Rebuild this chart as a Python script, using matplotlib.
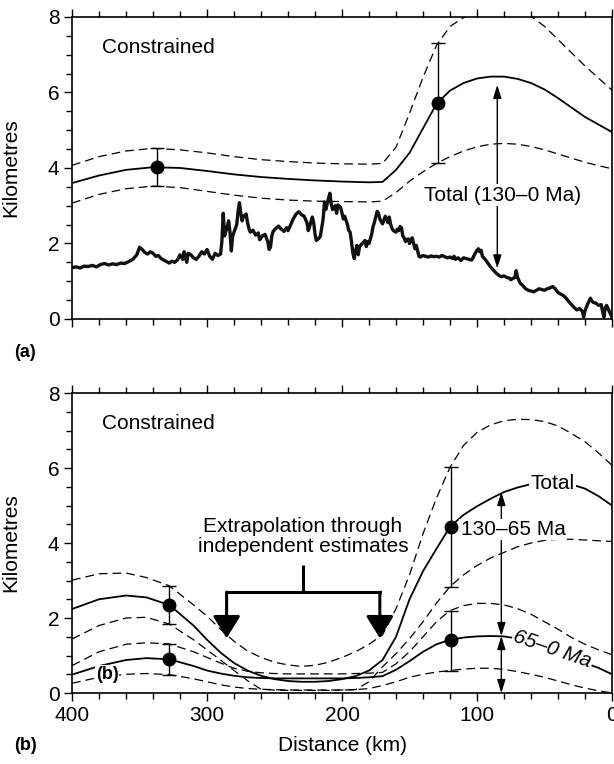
import matplotlib.pyplot as plt
from matplotlib.ticker import MultipleLocator

plt.rcParams['font.family'] = ['Liberation Sans', 'DejaVu Sans']

# ---- panel (a) ----
km_a = [400, 380, 360, 340, 320, 300, 280, 260, 240, 220, 200, 180, 170, 160, 150,
        140, 130, 120, 110, 100, 90, 80, 70, 60, 50, 40, 30, 20, 10, 0]
total_a = [3.60, 3.80, 3.95, 4.02, 4.00, 3.92, 3.83, 3.76, 3.71, 3.67, 3.64, 3.62, 3.63,
           3.95, 4.40, 5.05, 5.70, 6.05, 6.25, 6.37, 6.42, 6.42, 6.36, 6.25, 6.08, 5.85,
           5.60, 5.35, 5.15, 4.95]
upper_a = [4.07, 4.30, 4.45, 4.52, 4.48, 4.40, 4.30, 4.22, 4.17, 4.13, 4.11, 4.10, 4.12,
           4.55, 5.45, 6.40, 7.25, 7.75, 7.98, 8.14, 8.22, 8.25, 8.18, 8.02, 7.75, 7.40,
           7.05, 6.70, 6.38, 6.06]
lower_a = [3.07, 3.30, 3.45, 3.52, 3.48, 3.38, 3.28, 3.20, 3.15, 3.12, 3.11, 3.10, 3.12,
           3.35, 3.65, 3.90, 4.12, 4.30, 4.45, 4.56, 4.63, 4.65, 4.63, 4.57, 4.48, 4.37,
           4.26, 4.15, 4.06, 3.98]
err_km_a = [337, 129]
err_val_a = [4.02, 5.73]
err_lo_a = [3.52, 4.13]
err_hi_a = [4.52, 7.31]

# topography profile
topo_km = [400, 397, 394, 391, 388, 385, 382, 379, 376, 373, 370, 367, 364, 361, 358, 355,
           352, 350, 348, 346, 344, 342, 340, 338, 336, 334, 332, 330, 328, 326, 324, 322,
           320, 318, 317, 315, 314, 312, 310, 308, 306, 304, 302, 300, 298, 296, 294, 292,
           290, 289, 288, 287, 285, 284, 283, 282, 281, 279, 278, 277, 276, 275, 274, 273,
           271, 270, 269, 268, 266, 264, 262, 261, 259, 257, 255, 254, 253, 252, 251, 249,
           247, 245, 243, 241, 240, 238, 236, 234, 232, 230, 228, 226, 225, 224, 222, 221,
           220, 219, 217, 216, 214, 213, 212, 210, 209, 208, 207, 205, 204, 203, 201, 200,
           199, 198, 196, 195, 194, 193, 192, 191, 190, 189, 188, 187, 185, 183, 182, 181,
           180, 178, 177, 176, 175, 174, 173, 172, 171, 170, 169, 168, 167, 166, 165, 164,
           163, 162, 160, 159, 158, 157, 156, 155, 154, 153, 152, 151, 150, 149, 148, 147,
           146, 145, 144, 143, 142, 140, 138, 136, 134, 132, 130, 128, 126, 124, 122, 120,
           118, 117, 116, 114, 112, 110, 108, 106, 104, 103, 102, 100, 99, 98, 97, 96,
           94, 92, 90, 88, 86, 84, 82, 80, 78, 76, 75, 74, 72, 71, 70, 68,
           66, 64, 62, 60, 58, 56, 54, 52, 50, 48, 46, 44, 42, 40, 38, 36,
           34, 32, 30, 28, 26, 24, 22, 21, 20, 18, 16, 15, 14, 12, 10, 8,
           7, 6, 5, 4, 2, 0]
topo_h = [1.36, 1.38, 1.35, 1.40, 1.39, 1.42, 1.38, 1.44, 1.47, 1.43, 1.46, 1.44, 1.48, 1.47, 1.52, 1.58,
          1.70, 1.90, 1.84, 1.76, 1.72, 1.78, 1.74, 1.66, 1.68, 1.60, 1.56, 1.52, 1.48, 1.53, 1.50, 1.56,
          1.70, 1.58, 1.78, 1.50, 1.74, 1.70, 1.62, 1.58, 1.66, 1.78, 1.72, 1.84, 1.66, 1.58, 1.74, 1.68,
          1.72, 2.05, 2.80, 2.20, 2.45, 2.60, 2.30, 1.80, 2.20, 2.40, 2.50, 2.85, 3.08, 2.80, 2.60, 2.72,
          2.78, 2.55, 2.40, 2.30, 2.35, 2.22, 2.28, 2.10, 2.20, 2.24, 2.05, 1.84, 1.90, 2.20, 2.32, 2.40,
          2.46, 2.38, 2.32, 2.42, 2.34, 2.50, 2.66, 2.78, 2.84, 2.76, 2.72, 2.55, 2.34, 2.45, 2.70, 2.55,
          2.25, 2.08, 2.14, 2.20, 2.65, 3.10, 2.90, 3.20, 3.33, 3.05, 2.90, 3.00, 2.80, 3.02, 2.95, 2.80,
          2.65, 2.72, 2.50, 2.34, 2.30, 2.05, 1.75, 1.60, 1.80, 1.95, 1.70, 1.92, 2.00, 2.08, 1.92, 2.05,
          2.00, 2.25, 2.45, 2.56, 2.70, 2.85, 2.80, 2.65, 2.58, 2.52, 2.62, 2.72, 2.66, 2.55, 2.70, 2.50,
          2.40, 2.34, 2.30, 2.38, 2.34, 2.45, 2.42, 2.20, 2.15, 2.05, 2.10, 2.12, 2.00, 2.10, 2.15, 2.00,
          1.86, 1.95, 1.80, 1.66, 1.64, 1.68, 1.66, 1.64, 1.67, 1.65, 1.66, 1.64, 1.68, 1.65, 1.62, 1.64,
          1.60, 1.66, 1.58, 1.62, 1.55, 1.62, 1.60, 1.58, 1.56, 1.62, 1.70, 1.82, 1.86, 1.78, 1.82, 1.66,
          1.58, 1.48, 1.38, 1.30, 1.22, 1.16, 1.12, 1.14, 1.10, 1.08, 1.04, 1.06, 1.10, 1.28, 1.10, 0.95,
          0.88, 0.80, 0.76, 0.74, 0.72, 0.76, 0.80, 0.78, 0.76, 0.80, 0.82, 0.86, 0.80, 0.70, 0.66, 0.62,
          0.55, 0.46, 0.38, 0.30, 0.24, 0.28, 0.20, 0.05, 0.22, 0.40, 0.55, 0.48, 0.44, 0.42, 0.36, 0.38,
          0.20, 0.05, 0.30, 0.36, 0.20, 0.04]

# ---- panel (b) ----
km_b = [400, 380, 360, 345, 328, 310, 300, 290, 280, 270, 260, 250, 240, 230, 220, 210,
        200, 190, 180, 170, 160, 150, 140, 130, 120, 110, 100, 90, 80, 70, 60, 50,
        40, 30, 20, 10, 0]
total_b = [2.24, 2.50, 2.60, 2.55, 2.35, 1.80, 1.42, 1.08, 0.80, 0.60, 0.46, 0.37, 0.32, 0.30, 0.30, 0.32,
           0.37, 0.45, 0.60, 0.88, 1.50, 2.50, 3.25, 3.85, 4.43, 4.75, 4.98, 5.18, 5.36, 5.48, 5.57, 5.62,
           5.62, 5.56, 5.45, 5.25, 5.00]
total_up_b = [3.01, 3.18, 3.20, 3.08, 2.86, 2.35, 2.05, 1.70, 1.38, 1.12, 0.95, 0.82, 0.75, 0.71, 0.74, 0.82,
              0.95, 1.10, 1.30, 1.55, 2.25, 3.15, 4.25, 5.20, 6.02, 6.60, 6.95, 7.15, 7.26, 7.30, 7.29, 7.24,
              7.12, 6.92, 6.70, 6.40, 6.07]
total_lo_b = [1.44, 1.80, 2.00, 2.02, 1.84, 1.42, 1.15, 0.88, 0.60, 0.33, 0.10, 0.08, 0.07, 0.07, 0.07, 0.07,
              0.08, 0.09, 0.30, 0.70, 1.05, 1.45, 1.90, 2.40, 2.84, 3.15, 3.40, 3.60, 3.75, 3.90, 4.00, 4.07,
              4.10, 4.10, 4.08, 4.06, 4.04]
young_b = [0.49, 0.72, 0.88, 0.93, 0.90, 0.72, 0.60, 0.52, 0.46, 0.42, 0.40, 0.39, 0.39, 0.39, 0.39, 0.39,
           0.39, 0.40, 0.42, 0.45, 0.62, 0.85, 1.10, 1.30, 1.42, 1.48, 1.51, 1.52, 1.51, 1.45, 1.35, 1.22,
           1.08, 0.94, 0.80, 0.67, 0.50]
young_up_b = [0.73, 1.10, 1.30, 1.34, 1.31, 1.10, 0.95, 0.80, 0.66, 0.58, 0.54, 0.52, 0.51, 0.51, 0.51, 0.51,
              0.51, 0.52, 0.53, 0.55, 0.78, 1.10, 1.50, 1.90, 2.20, 2.33, 2.39, 2.39, 2.35, 2.25, 2.10, 1.90,
              1.70, 1.48, 1.30, 1.15, 1.02]
young_lo_b = [0.26, 0.42, 0.50, 0.52, 0.49, 0.38, 0.30, 0.22, 0.16, 0.12, 0.10, 0.09, 0.08, 0.08, 0.08, 0.08,
              0.08, 0.09, 0.12, 0.20, 0.30, 0.42, 0.50, 0.56, 0.60, 0.64, 0.66, 0.66, 0.63, 0.57, 0.50, 0.42,
              0.32, 0.22, 0.13, 0.06, 0.00]
err_km_b = [328, 328, 119, 119]
err_val_b = [2.35, 0.90, 4.43, 1.42]
err_lo_b = [1.84, 0.48, 2.84, 0.60]
err_hi_b = [2.86, 1.31, 6.02, 2.20]

dash = (0, (7, 4))


def style_axes(ax, show_x):
    ax.set_xlim(400, 0)
    ax.set_ylim(0, 8)
    ax.xaxis.set_major_locator(MultipleLocator(100))
    ax.xaxis.set_minor_locator(MultipleLocator(20))
    ax.yaxis.set_major_locator(MultipleLocator(2))
    ax.yaxis.set_minor_locator(MultipleLocator(0.5))
    ax.tick_params(which='both', direction='out', top=True, right=False,
                   labelsize=15, width=1, pad=3)
    ax.tick_params(which='major', length=6)
    ax.tick_params(which='minor', length=4)
    ax.tick_params(axis='x', labelbottom=show_x)
    for s in ax.spines.values():
        s.set_linewidth(1.2)
    ax.set_ylabel('Kilometres', fontsize=15)
    ax.yaxis.set_label_coords(-0.095, 0.5)


def draw_err(ax, xs, ys, lo, hi):
    yerr = [[y - l for y, l in zip(ys, lo)], [h - y for y, h in zip(ys, hi)]]
    ax.errorbar(xs, ys, yerr=yerr, fmt='o', color='k', ms=9, capsize=5,
                elinewidth=1, capthick=1, zorder=5)


fig = plt.figure(figsize=(6.14, 7.64), dpi=100)
ax1 = fig.add_axes([0.1173, 0.5825, 0.8795, 0.3953])
ax2 = fig.add_axes([0.1173, 0.0929, 0.8795, 0.3927])

# (a)
ax1.plot(km_a, total_a, color='k', lw=1.3)
ax1.plot(km_a, upper_a, color='k', lw=0.9, ls=dash)
ax1.plot(km_a, lower_a, color='k', lw=0.9, ls=dash)
ax1.plot(topo_km, topo_h, color='#111111', lw=2.4)
draw_err(ax1, err_km_a, err_val_a, err_lo_a, err_hi_a)
ax1.annotate('', xy=(85, 6.2), xytext=(85, 1.34),
             arrowprops=dict(arrowstyle='<|-|>,head_width=0.25,head_length=0.8',
                             color='k', lw=1, shrinkA=0, shrinkB=0), zorder=3)
ax1.text(81, 3.28, 'Total (130\u20130 Ma)', fontsize=15, ha='center', va='center',
         bbox=dict(facecolor='white', edgecolor='none', pad=1), zorder=4)
ax1.text(378, 7.2, 'Constrained', fontsize=15, ha='left', va='center')
style_axes(ax1, False)

# (b)
ax2.plot(km_b, total_b, color='k', lw=1.3)
ax2.plot(km_b, young_b, color='k', lw=1.3)
for series in (total_up_b, total_lo_b, young_up_b, young_lo_b):
    ax2.plot(km_b, series, color='k', lw=0.9, ls=dash)
draw_err(ax2, err_km_b, err_val_b, err_lo_b, err_hi_b)

# bracket for extrapolation
ax2.plot([229, 229], [3.42, 2.69], color='k', lw=2.2, solid_capstyle='butt')
ax2.plot([285.5, 172], [2.69, 2.69], color='k', lw=2.2, solid_capstyle='projecting')
for xb in (285.5, 172):
    ax2.annotate('', xy=(xb, 1.46), xytext=(xb, 2.69),
                 arrowprops=dict(arrowstyle='-|>,head_width=0.42,head_length=0.68',
                                 mutation_scale=20, color='k', lw=2.2,
                                 shrinkA=0, shrinkB=0))
ax2.text(229, 4.17, 'Extrapolation through\nindependent estimates', fontsize=15,
         ha='center', va='center', linespacing=1.05)

# age arrows
ax2.annotate('', xy=(82, 5.36), xytext=(82, 1.52),
             arrowprops=dict(arrowstyle='<|-|>,head_width=0.25,head_length=0.8',
                             color='k', lw=1, shrinkA=0, shrinkB=0), zorder=3)
ax2.annotate('', xy=(82, 1.52), xytext=(82, 0.0),
             arrowprops=dict(arrowstyle='<|-|>,head_width=0.25,head_length=0.8',
                             color='k', lw=1, shrinkA=0, shrinkB=0), zorder=3)
box = dict(facecolor='white', edgecolor='none', pad=1)
ax2.text(44, 5.6, 'Total', fontsize=15, ha='center', va='center', bbox=box, zorder=4)
ax2.text(112, 4.36, '130\u201365 Ma', fontsize=15, ha='left', va='center', bbox=box, zorder=4)
ax2.text(44, 1.17, '65\u20130 Ma', fontsize=15, ha='center', va='center', style='italic',
         rotation=-19, rotation_mode='anchor', bbox=box, zorder=4)
ax2.text(374, 0.5, '(b)', fontsize=13, fontweight='bold', ha='center', va='center',
         bbox=dict(facecolor='white', edgecolor='none', pad=0.5), zorder=4)
ax2.text(378, 7.2, 'Constrained', fontsize=15, ha='left', va='center')
style_axes(ax2, True)
ax2.set_xlabel('Distance (km)', fontsize=15, labelpad=8)

fig.text(0.041, 1 - 352 / 764, '(a)', fontsize=13, fontweight='bold', ha='center', va='center')
fig.text(0.041, 1 - 746 / 764, '(b)', fontsize=13, fontweight='bold', ha='center', va='center')

fig.savefig('out.png', dpi=100)
